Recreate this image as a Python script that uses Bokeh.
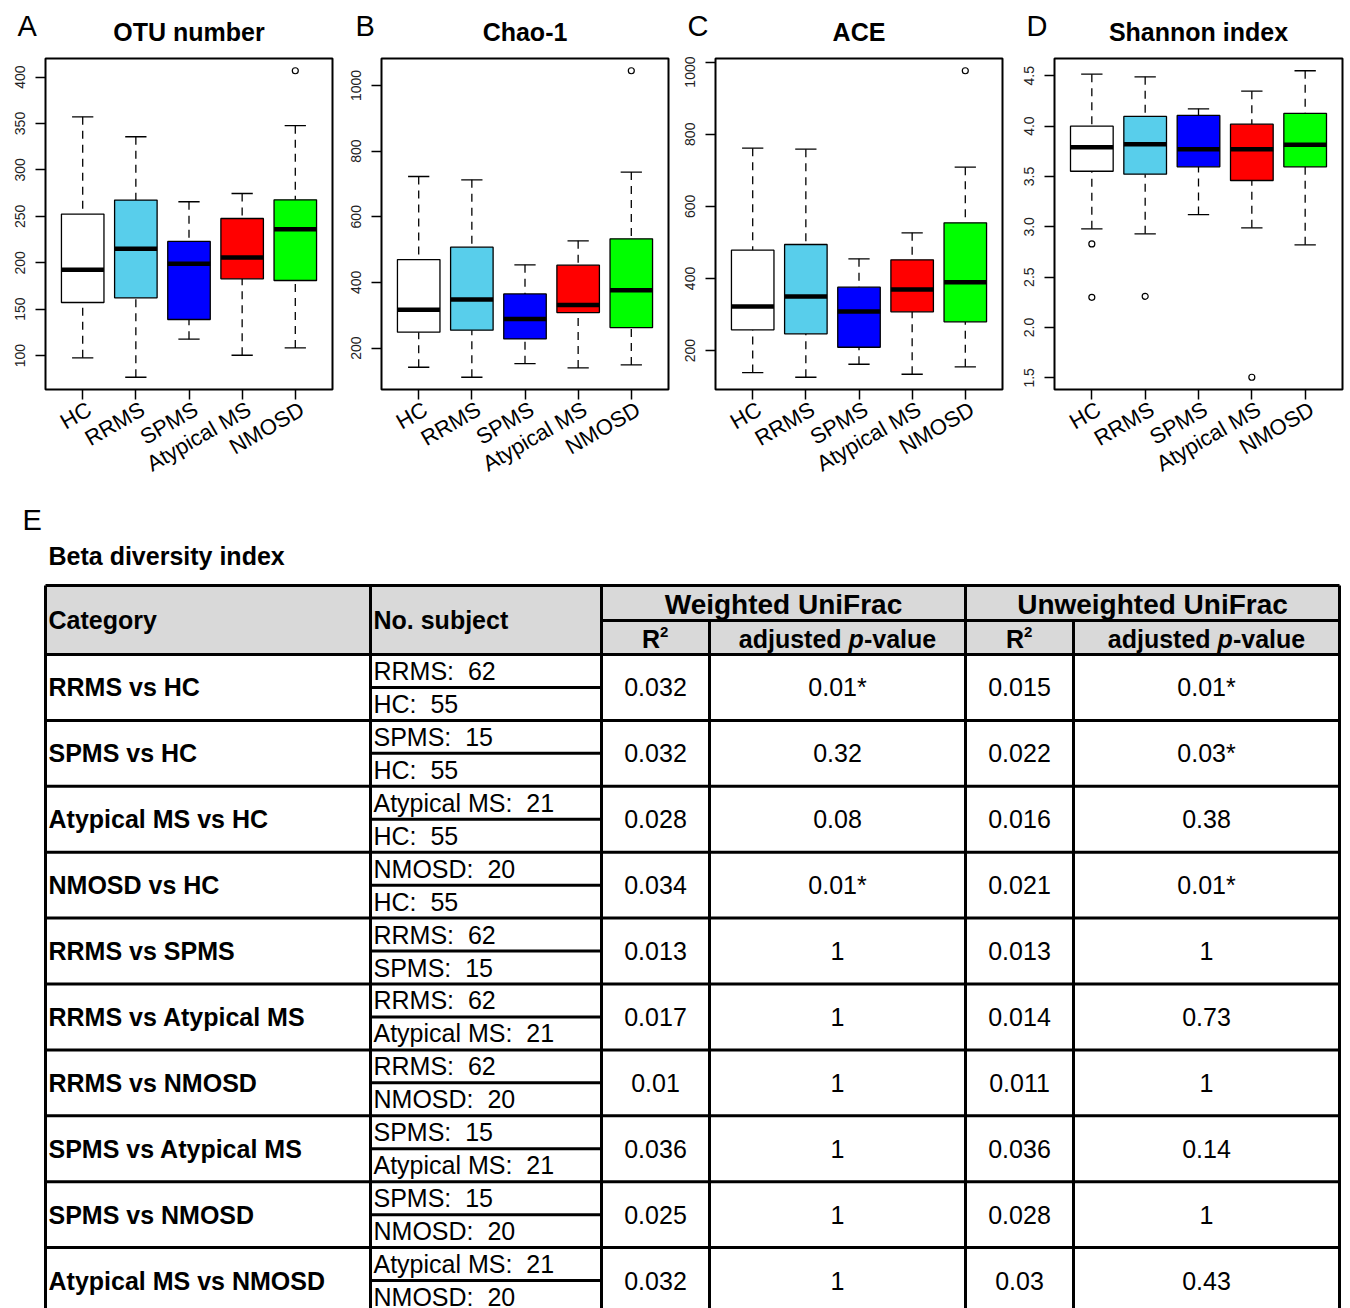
import math
from bokeh.plotting import figure
from bokeh.models import Range1d, FixedTicker, NumeralTickFormatter, LinearAxis
from bokeh.layouts import column, row
from bokeh.embed import file_html
from bokeh.resources import INLINE
from bokeh.core.properties import value

# ---------------- data ----------------
groups = ["HC", "RRMS", "SPMS", "Atypical MS", "NMOSD"]
group_colors = ["#FFFFFF", "#58CEEB", "#0000FF", "#FF0000", "#00FF00"]
group_n = {"HC": 55, "RRMS": 62, "SPMS": 15, "Atypical MS": 21, "NMOSD": 20}

# five-number summaries per group: lower whisker, Q1, median, Q3, upper whisker
otu_stats = [[97.6, 157.2, 192.4, 252.4, 357.2],
             [76.7, 162.2, 215.0, 267.5, 335.7],
             [117.7, 138.9, 198.9, 223.0, 265.7],
             [100.4, 182.7, 205.7, 247.7, 274.6],
             [108.3, 180.9, 236.2, 267.8, 347.6]]
otu_outliers = [[], [], [], [], [406.8]]

chao_stats = [[141.5, 248.2, 317.0, 469.5, 722.6],
              [111.0, 254.3, 347.6, 507.3, 712.5],
              [152.4, 227.7, 288.7, 365.0, 453.4],
              [139.3, 308.0, 331.4, 452.4, 526.5],
              [148.5, 262.2, 376.2, 532.6, 736.0]]
chao_outliers = [[], [], [], [], [1044.8]]

ace_stats = [[139.0, 257.5, 322.1, 478.4, 761.4],
             [126.0, 246.4, 349.9, 494.2, 758.6],
             [162.0, 209.2, 308.3, 375.7, 454.5],
             [134.3, 307.4, 369.3, 451.7, 526.6],
             [154.8, 279.7, 389.6, 554.4, 708.7]]
ace_outliers = [[], [], [], [], [976.1]]

shannon_stats = [[2.98, 3.552, 3.791, 4.000, 4.516],
                 [2.93, 3.523, 3.821, 4.096, 4.490],
                 [3.122, 3.596, 3.771, 4.106, 4.172],
                 [2.99, 3.460, 3.771, 4.019, 4.347],
                 [2.821, 3.596, 3.815, 4.126, 4.550]]
shannon_outliers = [[2.83, 2.30], [2.31], [], [1.506], []]

panel_letters = ["A", "B", "C", "D"]
panel_titles = ["OTU number", "Chao-1", "ACE", "Shannon index"]
panel_ticks = [[100, 150, 200, 250, 300, 350, 400],
               [200, 400, 600, 800, 1000],
               [200, 400, 600, 800, 1000],
               [1.5, 2.0, 2.5, 3.0, 3.5, 4.0, 4.5]]
panel_formats = ["0", "0", "0", "0.0"]

# beta diversity table
pair_a = ["RRMS", "SPMS", "Atypical MS", "NMOSD", "RRMS", "RRMS", "RRMS", "SPMS", "SPMS", "Atypical MS"]
pair_b = ["HC", "HC", "HC", "HC", "SPMS", "Atypical MS", "NMOSD", "Atypical MS", "NMOSD", "NMOSD"]
r2_weighted = [0.032, 0.032, 0.028, 0.034, 0.013, 0.017, 0.01, 0.036, 0.025, 0.032]
p_weighted = [0.01, 0.32, 0.08, 0.01, 1, 1, 1, 1, 1, 1]
r2_unweighted = [0.015, 0.022, 0.016, 0.021, 0.013, 0.014, 0.011, 0.036, 0.028, 0.03]
p_unweighted = [0.01, 0.03, 0.38, 0.01, 1, 0.73, 1, 0.14, 1, 0.43]

# ---------------- layout constants ----------------
FONT = "Liberation Sans"
PAGE_W = 1350
HEAD_H = 56          # strip with panel letters and titles
TOP_H = 442          # box-plot row
FRAME_TOP = 2
FRAME_H = 331
FRAME_W = [287, 287, 287, 288]
PANEL_W = [336, 334, 339, 341]
BORDER_L = [45, 45, 45, 45]
LETTER_DX = [28, 26, 28, 28]
LABEL_SHIFT = 0.13   # x-label offset (data units) to mimic R's rotated label placement


def box_panel(i, stats, outs):
    lows = [s[0] for s in stats]
    highs = [s[4] for s in stats]
    allv = lows + highs + [v for o in outs for v in o]
    lo, hi = min(allv), max(allv)
    pad = 0.04 * (hi - lo)
    y0, y1 = lo - pad, hi + pad
    p = figure(width=PANEL_W[i], height=TOP_H,
               x_range=Range1d(0.3, 5.7), y_range=Range1d(y0, y1),
               toolbar_location=None, output_backend="svg",
               min_border_left=BORDER_L[i],
               min_border_right=PANEL_W[i] - BORDER_L[i] - FRAME_W[i],
               min_border_top=FRAME_TOP,
               min_border_bottom=TOP_H - FRAME_TOP - FRAME_H,
               background_fill_color="white", border_fill_color="white")
    p.xgrid.visible = False
    p.ygrid.visible = False
    p.outline_line_color = "black"
    p.outline_line_width = 2
    p.outline_line_alpha = 1

    xs = [1, 2, 3, 4, 5]
    lw = [s[0] for s in stats]
    q1 = [s[1] for s in stats]
    md = [s[2] for s in stats]
    q3 = [s[3] for s in stats]
    uw = [s[4] for s in stats]

    p.segment(x0=xs, y0=uw, x1=xs, y1=q3, line_color="black", line_width=1.3, line_dash="8 6")
    p.segment(x0=xs, y0=lw, x1=xs, y1=q1, line_color="black", line_width=1.3, line_dash="8 6")
    p.segment(x0=[x - 0.2 for x in xs], x1=[x + 0.2 for x in xs], y0=uw, y1=uw, line_color="black", line_width=1.3)
    p.segment(x0=[x - 0.2 for x in xs], x1=[x + 0.2 for x in xs], y0=lw, y1=lw, line_color="black", line_width=1.3)
    p.vbar(x=xs, width=0.8, bottom=q1, top=q3, fill_color=group_colors, line_color="black", line_width=1.3)
    p.segment(x0=[x - 0.4 for x in xs], x1=[x + 0.4 for x in xs], y0=md, y1=md, line_color="black", line_width=4.5)
    ox = [xs[g] for g in range(5) for _ in outs[g]]
    oy = [v for g in range(5) for v in outs[g]]
    if ox:
        p.scatter(x=ox, y=oy, marker="circle", size=6, fill_color=None, line_color="black", line_width=1.2)

    # x axis: tick marks only (labels not drawn)
    p.xaxis.ticker = FixedTicker(ticks=xs)
    p.xaxis.major_label_text_font_size = "1px"
    p.xaxis.major_label_text_color = None
    p.xaxis.major_label_standoff = 0
    p.xaxis.axis_line_color = None
    p.xaxis.major_tick_out = 10
    p.xaxis.major_tick_in = 0
    p.xaxis.major_tick_line_width = 1.5
    p.xaxis.minor_tick_line_color = None
    # x axis: rotated group labels
    lab_ticks = [x + LABEL_SHIFT for x in xs]
    lab_axis = LinearAxis(ticker=FixedTicker(ticks=lab_ticks),
                          major_label_overrides={t: g for t, g in zip(lab_ticks, groups)},
                          major_label_orientation=math.pi / 6,
                          major_label_text_font=FONT, major_label_text_font_size="22px",
                          major_label_text_color="black", major_label_standoff=8,
                          axis_line_color=None, major_tick_line_color=None,
                          major_tick_out=0, major_tick_in=0, minor_tick_line_color=None)
    p.add_layout(lab_axis, "below")

    p.yaxis.ticker = FixedTicker(ticks=panel_ticks[i])
    p.yaxis.formatter = NumeralTickFormatter(format=panel_formats[i])
    p.yaxis.major_label_orientation = "parallel"
    p.yaxis.major_label_text_font = FONT
    p.yaxis.major_label_text_font_size = "14px"
    p.yaxis.major_label_text_color = "#222222"
    p.yaxis.major_label_standoff = 10
    p.yaxis.axis_line_color = None
    p.yaxis.major_tick_out = 10
    p.yaxis.major_tick_in = 0
    p.yaxis.major_tick_line_width = 1.5
    p.yaxis.minor_tick_line_color = None
    return p


panels = [box_panel(0, otu_stats, otu_outliers),
          box_panel(1, chao_stats, chao_outliers),
          box_panel(2, ace_stats, ace_outliers),
          box_panel(3, shannon_stats, shannon_outliers)]

# ---------------- header strip (panel letters and titles) ----------------
h = figure(width=PAGE_W, height=HEAD_H, x_range=Range1d(0, PAGE_W), y_range=Range1d(HEAD_H, 0),
           toolbar_location=None, output_backend="svg", min_border=0,
           x_axis_type=None, y_axis_type=None, outline_line_color=None,
           background_fill_color="white", border_fill_color="white")
h.xgrid.visible = False
h.ygrid.visible = False
fig_x0 = [sum(PANEL_W[:k]) for k in range(4)]
frame_l = [fig_x0[k] + BORDER_L[k] for k in range(4)]
h.text(x=[frame_l[k] + FRAME_W[k] / 2 for k in range(4)], y=[31.5] * 4, text=panel_titles,
       text_font=value(FONT), text_font_size="25px", text_font_style="bold",
       text_align="center", text_baseline="middle", text_color="black")
h.text(x=[frame_l[k] - LETTER_DX[k] for k in range(4)], y=[25] * 4, text=panel_letters,
       text_font=value(FONT), text_font_size="29px",
       text_align="left", text_baseline="middle", text_color="black")

# ---------------- table ----------------
T_TOP = HEAD_H + TOP_H
T_H = 1308 - T_TOP
t = figure(width=PAGE_W, height=T_H, x_range=Range1d(0, PAGE_W), y_range=Range1d(T_TOP + T_H, T_TOP),
           toolbar_location=None, output_backend="svg", min_border=0,
           x_axis_type=None, y_axis_type=None, outline_line_color=None,
           background_fill_color="white", border_fill_color="white")
t.xgrid.visible = False
t.ygrid.visible = False

col_x = [45, 370, 601, 709, 965, 1073, 1339]
head_top, head_mid, head_bot = 585, 620, 654
row_h = 65.9
n_rows = len(pair_a)
row_tops = [head_bot + k * row_h for k in range(n_rows)]
bottom = head_bot + n_rows * row_h

t.quad(left=[col_x[0]], right=[col_x[-1]], top=[head_top], bottom=[head_bot], fill_color="#D9D9D9", line_color=None)

LW = 3
hx0 = [col_x[0], col_x[2], col_x[0]] + [col_x[0]] * n_rows
hx1 = [col_x[-1]] * (3 + n_rows)
hy = [head_top, head_mid, head_bot] + [rt + row_h for rt in row_tops]
t.segment(x0=hx0, x1=hx1, y0=hy, y1=hy, line_color="black", line_width=LW)
sy = [rt + row_h / 2 for rt in row_tops]
t.segment(x0=[col_x[1]] * n_rows, x1=[col_x[2]] * n_rows, y0=sy, y1=sy, line_color="black", line_width=LW)
vx = [col_x[0], col_x[1], col_x[2], col_x[4], col_x[6], col_x[3], col_x[5]]
vy0 = [head_top] * 5 + [head_mid] * 2
t.segment(x0=vx, x1=vx, y0=vy0, y1=[bottom] * len(vx), line_color="black", line_width=LW)

FS = "25px"
t.text(x=[22], y=[519], text=["E"], text_font=value(FONT), text_font_size="29px",
       text_align="left", text_baseline="middle", text_color="black")
t.text(x=[48], y=[555], text=["Beta diversity index"], text_font=value(FONT), text_font_size=FS,
       text_font_style="bold", text_align="left", text_baseline="middle", text_color="black")

hm = (head_top + head_bot) / 2
t.text(x=[48, 373], y=[hm, hm], text=["Category", "No. subject"], text_font=value(FONT),
       text_font_size=FS, text_font_style="bold", text_align="left", text_baseline="middle", text_color="black")
gm = (head_top + head_mid) / 2
t.text(x=[(col_x[2] + col_x[4]) / 2, (col_x[4] + col_x[6]) / 2], y=[gm + 1, gm + 1],
       text=["Weighted UniFrac", "Unweighted UniFrac"], text_font=value(FONT), text_font_size="28px",
       text_font_style="bold", text_align="center", text_baseline="middle", text_color="black")
sm = (head_mid + head_bot) / 2
r2_cx = [(col_x[2] + col_x[3]) / 2, (col_x[4] + col_x[5]) / 2]
t.text(x=[c - 13.5 for c in r2_cx], y=[sm + 1] * 2, text=["R", "R"], text_font=value(FONT),
       text_font_size=FS, text_font_style="bold", text_align="left", text_baseline="middle", text_color="black")
t.text(x=[c + 4.5 for c in r2_cx], y=[sm - 6] * 2, text=["2", "2"], text_font=value(FONT),
       text_font_size="15px", text_font_style="bold", text_align="left", text_baseline="middle", text_color="black")
p_cx = [(col_x[3] + col_x[4]) / 2, (col_x[5] + col_x[6]) / 2]
adj_w, p_w, val_w = 109.8, 15.3, 72.3
tot = adj_w + p_w + val_w
starts = [c - tot / 2 for c in p_cx]
t.text(x=starts, y=[sm + 1] * 2, text=["adjusted\u00a0"] * 2, text_font=value(FONT), text_font_size=FS,
       text_font_style="bold", text_align="left", text_baseline="middle", text_color="black")
t.text(x=[s + adj_w for s in starts], y=[sm + 1] * 2, text=["p"] * 2, text_font=value(FONT), text_font_size=FS,
       text_font_style="bold italic", text_align="left", text_baseline="middle", text_color="black")
t.text(x=[s + adj_w + p_w for s in starts], y=[sm + 1] * 2, text=["-value"] * 2, text_font=value(FONT),
       text_font_size=FS, text_font_style="bold", text_align="left", text_baseline="middle", text_color="black")


def fmt_p(v):
    return f"{v:g}" + ("*" if v < 0.05 else "")


mids = [rt + row_h / 2 for rt in row_tops]
cats = [f"{a} vs {b}" for a, b in zip(pair_a, pair_b)]
t.text(x=[48] * n_rows, y=mids, text=cats, text_font=value(FONT), text_font_size=FS,
       text_font_style="bold", text_align="left", text_baseline="middle", text_color="black")
subj_a = [f"{a}:\u00a0\u00a0{group_n[a]}" for a in pair_a]
subj_b = [f"{b}:\u00a0\u00a0{group_n[b]}" for b in pair_b]
t.text(x=[373] * n_rows, y=[rt + row_h / 4 for rt in row_tops], text=subj_a, text_font=value(FONT),
       text_font_size=FS, text_align="left", text_baseline="middle", text_color="black")
t.text(x=[373] * n_rows, y=[rt + 3 * row_h / 4 for rt in row_tops], text=subj_b, text_font=value(FONT),
       text_font_size=FS, text_align="left", text_baseline="middle", text_color="black")
centers = [(col_x[k] + col_x[k + 1]) / 2 for k in range(2, 6)]
for c, vals in zip(centers, [[f"{v:g}" for v in r2_weighted], [fmt_p(v) for v in p_weighted],
                             [f"{v:g}" for v in r2_unweighted], [fmt_p(v) for v in p_unweighted]]):
    t.text(x=[c] * n_rows, y=mids, text=vals, text_font=value(FONT), text_font_size=FS,
           text_align="center", text_baseline="middle", text_color="black")

layout = column(h, row(*panels), t)
open("out.html", "w").write(file_html(layout, INLINE))
